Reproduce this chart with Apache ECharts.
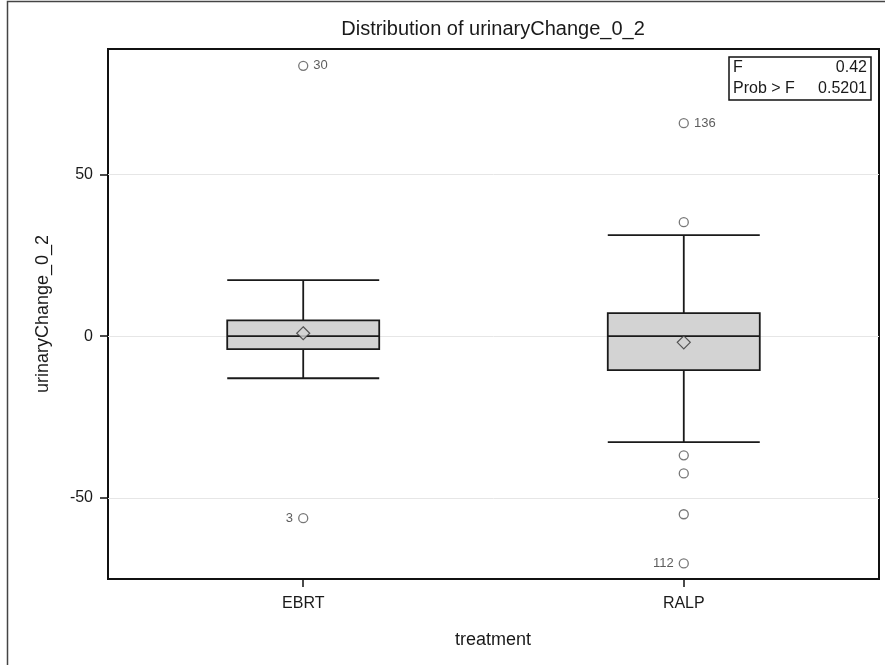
<!DOCTYPE html>
<html>
<head>
<meta charset="utf-8">
<script src="https://cdn.jsdelivr.net/npm/echarts@6/dist/echarts.min.js"></script>
<style>
  html, body { margin: 0; padding: 0; background: #fff; }
  #chart { width: 885px; height: 665px; }
</style>
</head>
<body>
<div id="chart"></div>
<script>
// ---- data ----
const categories = ['EBRT', 'RALP'];
const whiskerLow  = [-13.0, -32.7];
const q1          = [-4.0, -10.5];
const median      = [0.0, 0.0];
const q3          = [4.9, 7.1];
const whiskerHigh = [17.3, 31.2];
const means       = [0.9, -1.9];
const ebrtOutliers   = [83.5, -56.2];
const ebrtOutlierIds = ['30', '3'];
const ralpOutliers   = [65.8, 35.2, -36.8, -42.4, -55.0, -70.2];
const ralpOutlierIds = ['136', '', '', '', '', '112'];
const yTicks = [-50, 0, 50];
const fStat = '0.42';
const probF = '0.5201';
const titleText = 'Distribution of urinaryChange_0_2';
const yName = 'urinaryChange_0_2';
const xName = 'treatment';

const FONT = '"Liberation Sans", Arial, sans-serif';
const TXT = '#1a1a1a';

const catIdx = categories.map((c, i) => i);
const boxData = categories.map((c, i) => [i, whiskerLow[i], q1[i], median[i], q3[i], whiskerHigh[i]]);

function outlierPoints(ci, vals, ids) {
  return vals.map((v, j) => ({
    value: [ci, v],
    label: {
      show: ids[j] !== '',
      formatter: ids[j],
      position: v > median[ci] ? 'right' : 'left'
    }
  }));
}
const outlierData = outlierPoints(0, ebrtOutliers, ebrtOutlierIds)
  .concat(outlierPoints(1, ralpOutliers, ralpOutlierIds));
const meanData = means.map((m, i) => [i, m]);

const chart = echarts.init(document.getElementById('chart'), null, { renderer: 'canvas' });

const option = {
  animation: false,
  backgroundColor: '#fff',
  grid: {
    left: 108, right: 6, top: 49, bottom: 86,
    show: true, borderColor: '#111', borderWidth: 2, backgroundColor: 'transparent'
  },
  xAxis: {
    type: 'value',
    min: -0.513,
    max: 1.513,
    axisLine: { show: false, onZero: false },
    axisTick: { show: true, customValues: catIdx, length: 8, lineStyle: { color: '#111', width: 1.5 } },
    axisLabel: {
      customValues: catIdx, color: TXT, fontFamily: FONT, fontSize: 16, margin: 17,
      formatter: v => categories[Math.round(v)]
    },
    splitLine: { show: false }
  },
  yAxis: {
    type: 'value',
    min: -75,
    max: 88.7,
    axisLine: { show: false, onZero: false },
    axisTick: { show: true, customValues: yTicks, length: 8, lineStyle: { color: '#111', width: 1.5 } },
    axisLabel: { customValues: yTicks, color: TXT, fontFamily: FONT, fontSize: 16, margin: 15 },
    splitLine: { show: true, lineStyle: { color: '#e6e6e6', width: 1 } }
  },
  series: [
    {
      type: 'boxplot',
      z: 4,
      data: boxData,
      encode: { x: 0, y: [1, 2, 3, 4, 5] },
      boxWidth: [152, 152],
      itemStyle: { color: '#d3d3d3', borderColor: '#1a1a1a', borderWidth: 1.8 }
    },
    {
      type: 'scatter',
      z: 5,
      data: meanData,
      symbol: 'diamond',
      symbolSize: 13,
      itemStyle: { color: '#d3d3d3', borderColor: '#333', borderWidth: 1.2 }
    },
    {
      type: 'scatter',
      z: 5,
      data: outlierData,
      symbol: 'circle',
      symbolSize: 9,
      itemStyle: { color: '#fff', borderColor: '#555', borderWidth: 1.3 },
      label: { color: '#333', fontFamily: FONT, fontSize: 13, distance: 5 }
    }
  ],
  graphic: [
    {
      type: 'rect', silent: true, z: 0,
      shape: { x: 7.5, y: 1.5, width: 900, height: 700 },
      style: { fill: 'none', stroke: '#444', lineWidth: 1.5 }
    },
    {
      type: 'text', silent: true,
      x: 493, y: 29,
      style: { text: titleText, fill: TXT, font: '20px ' + FONT, textAlign: 'center', textVerticalAlign: 'middle' }
    },
    {
      type: 'text', silent: true,
      x: 43, y: 314, rotation: Math.PI / 2,
      style: { text: yName, fill: TXT, font: '18px ' + FONT, textAlign: 'center', textVerticalAlign: 'middle' }
    },
    {
      type: 'text', silent: true,
      x: 493, y: 640,
      style: { text: xName, fill: TXT, font: '18px ' + FONT, textAlign: 'center', textVerticalAlign: 'middle' }
    },
    {
      type: 'rect', silent: true,
      shape: { x: 729, y: 57, width: 142, height: 43 },
      style: { fill: '#fff', stroke: '#111', lineWidth: 1.5 }
    },
    {
      type: 'text', silent: true, x: 733, y: 68,
      style: { text: 'F', fill: TXT, font: '16px ' + FONT, textAlign: 'left', textVerticalAlign: 'middle' }
    },
    {
      type: 'text', silent: true, x: 867, y: 68,
      style: { text: fStat, fill: TXT, font: '16px ' + FONT, textAlign: 'right', textVerticalAlign: 'middle' }
    },
    {
      type: 'text', silent: true, x: 733, y: 89,
      style: { text: 'Prob > F', fill: TXT, font: '16px ' + FONT, textAlign: 'left', textVerticalAlign: 'middle' }
    },
    {
      type: 'text', silent: true, x: 867, y: 89,
      style: { text: probF, fill: TXT, font: '16px ' + FONT, textAlign: 'right', textVerticalAlign: 'middle' }
    }
  ]
};

chart.setOption(option);
</script>
</body>
</html>
